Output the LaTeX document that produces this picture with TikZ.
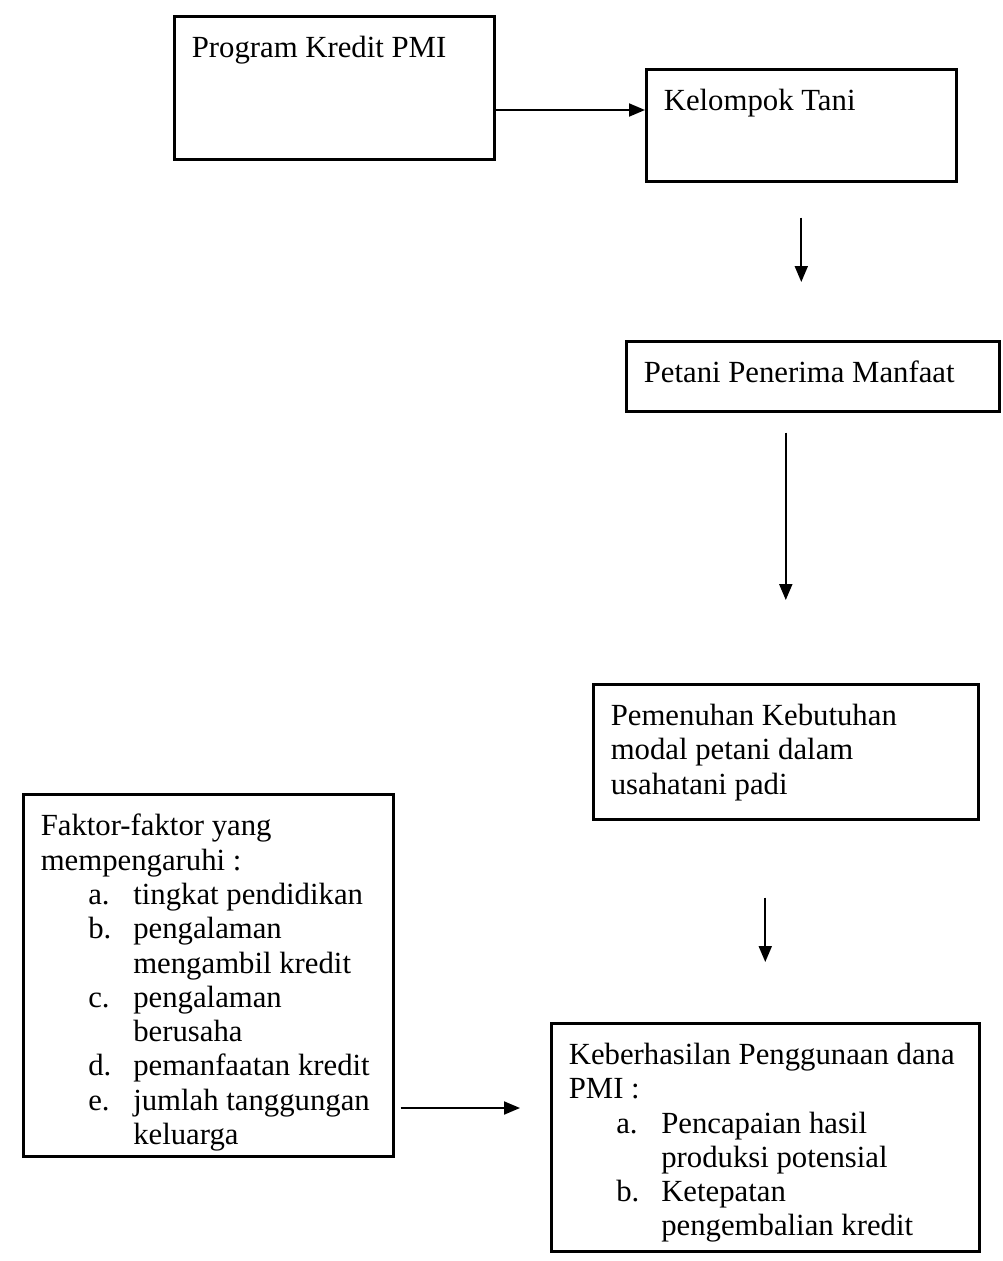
\documentclass[tikz,border=0pt]{standalone}
\usepackage{fontspec}
\setmainfont{Liberation Serif}
\usetikzlibrary{arrows.meta}
\newcommand{\isi}[3]{\parbox[t][#2][t]{#1}{\raggedright #3}}
\newcommand{\butir}[1]{\hspace*{0.95cm}\makebox[0.9cm][l]{#1}}
\newcommand{\lanjut}{\hspace*{1.85cm}}

\begin{document}
\begin{tikzpicture}[x=0.02cm, y=-0.02cm,
    kotak/.style={draw, line width=1.5pt, anchor=north west, inner xsep=0.35cm, inner ysep=0.4cm,
      font=\fontsize{17.5}{19.5}\selectfont},
    panah/.style={line width=1.1pt, -{Triangle[length=0.32cm, width=0.26cm]}}]
    \useasboundingbox (0,0) rectangle (1003,1261);

    \node[kotak] (prog) at (173,15) {\isi{5.7cm}{2.06cm}{Program Kredit PMI}};
    \node[kotak] (kel) at (645,68) {\isi{5.5cm}{1.44cm}{Kelompok Tani}};
    \node[kotak] (pet) at (625,340) {\isi{6.76cm}{0.6cm}{Petani Penerima Manfaat}};
    \node[kotak] (pem) at (592,683) {\isi{7cm}{1.9cm}{Pemenuhan Kebutuhan\\ modal petani dalam\\ usahatani padi}};
    \node[kotak] (fak) at (22,793) {\isi{6.7cm}{6.44cm}{Faktor-faktor yang\\ mempengaruhi :\\
      \butir{a.}tingkat pendidikan\\
      \butir{b.}pengalaman\\ \lanjut mengambil kredit\\
      \butir{c.}pengalaman\\ \lanjut berusaha\\
      \butir{d.}pemanfaatan kredit\\
      \butir{e.}jumlah tanggungan\\ \lanjut keluarga}};
    \node[kotak] (keb) at (550,1022) {\isi{7.86cm}{3.76cm}{Keberhasilan Penggunaan dana\\ PMI :\\
      \butir{a.}Pencapaian hasil\\ \lanjut produksi potensial\\
      \butir{b.}Ketepatan\\ \lanjut pengembalian kredit}};

    \draw[panah] (prog.east |- 0,110) -- (kel.west |- 0,110);
    \draw[panah, shorten <=0.7cm, shorten >=1.16cm] (kel.south) -- (kel.south |- pet.north);
    \draw[panah, shorten <=0.4cm, shorten >=1.66cm] (pem.north |- pet.south) -- (pem.north);
    \draw[panah, shorten <=1.54cm, shorten >=1.2cm] (keb.north |- pem.south) -- (keb.north);
    \draw[panah, shorten <=0.12cm, shorten >=0.6cm] (fak.east |- 0,1108) -- (keb.west |- 0,1108);
\end{tikzpicture}
\end{document}
